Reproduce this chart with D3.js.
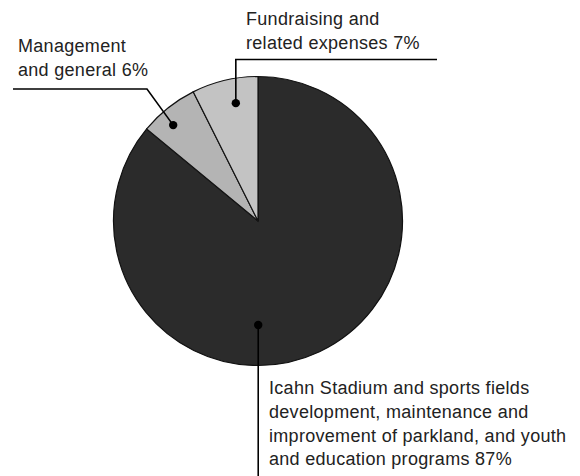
<!DOCTYPE html>
<html>
<head>
<meta charset="utf-8">
<script src="https://cdn.jsdelivr.net/npm/d3@7"></script>
<style>
    body { margin: 0; background: #fff; }
    svg text.label {
        font-family: "Liberation Sans", Arial, sans-serif;
        font-size: 18px;
        letter-spacing: 0.3px;
        fill: #222;
    }
    svg path.slice { stroke: #111; stroke-width: 1.2; }
    svg path.leader { fill: none; stroke: #000; stroke-width: 1.6; }
    svg circle.dot { fill: #000; }
</style>
</head>
<body>
<div class="chart"></div>
<script>
// slice order follows the pie clockwise from 12 o'clock
const categories = ["Icahn Stadium", "Management and general", "Fundraising"];
const shares = [86, 6.6, 7.4];          // angular share as drawn
const percentLabels = ["87%", "6%", "7%"];
const labelLines = [
    ["Icahn Stadium and sports fields",
     "development, maintenance and",
     "improvement of parkland, and youth",
     "and education programs 87%"],
    ["Management", "and general 6%"],
    ["Fundraising and", "related expenses 7%"]
];
const colors = ["#2b2b2b", "#b4b4b4", "#c3c3c3"];

(function () {
    const width = 580, height = 476;
    const cx = 258, cy = 221, r = 144.5;

    const svg = d3.select(".chart").append("svg")
        .attr("width", width)
        .attr("height", height);

    const pie = d3.pie().sort(null).value(function (d) { return d; });
    const arcs = pie(shares);
    const arc = d3.arc().innerRadius(0).outerRadius(r);

    const g = svg.append("g").attr("transform", "translate(" + cx + "," + cy + ")");

    g.selectAll("path.slice")
        .data(arcs)
        .enter().append("path")
        .attr("class", "slice")
        .attr("d", arc)
        .attr("fill", function (d, i) { return colors[i]; });

    // where the dot sits inside each slice: fraction of the sweep, fraction of radius
    const anchors = [
        {t: 0.581, rr: 0.72},
        {t: 0.375, rr: 0.886},
        {t: 0.60, rr: 0.83}
    ];
    const dotPos = arcs.map(function (a, i) {
        const ang = a.startAngle + anchors[i].t * (a.endAngle - a.startAngle);
        const rad = anchors[i].rr * r;
        return [cx + Math.sin(ang) * rad, cy - Math.cos(ang) * rad];
    });

    // leader line routes and text blocks
    const layout = [
        {route: function (p) { return [p, [p[0], height]]; },
         tx: 269, ty: 394},
        {route: function (p) { return [p, [147, 89], [13, 89]]; },
         tx: 18, ty: 52},
        {route: function (p) { return [p, [p[0], 59.5], [437, 59.5]]; },
         tx: 246, ty: 25}
    ];
    const lineH = 23.8;

    const line = d3.line();
    svg.selectAll("path.leader")
        .data(dotPos)
        .enter().append("path")
        .attr("class", "leader")
        .attr("d", function (p, i) { return line(layout[i].route(p)); });

    svg.selectAll("circle.dot")
        .data(dotPos)
        .enter().append("circle")
        .attr("class", "dot")
        .attr("cx", function (p) { return p[0]; })
        .attr("cy", function (p) { return p[1]; })
        .attr("r", 4.2);

    const texts = svg.selectAll("text.label")
        .data(labelLines)
        .enter().append("text")
        .attr("class", "label")
        .attr("x", function (d, i) { return layout[i].tx; })
        .attr("y", function (d, i) { return layout[i].ty; });

    texts.selectAll("tspan")
        .data(function (d, i) { return d.map(function (s) { return {s: s, i: i}; }); })
        .enter().append("tspan")
        .attr("x", function (d) { return layout[d.i].tx; })
        .attr("dy", function (d, j) { return j === 0 ? 0 : lineH; })
        .text(function (d) { return d.s; });
})();
</script>
</body>
</html>
